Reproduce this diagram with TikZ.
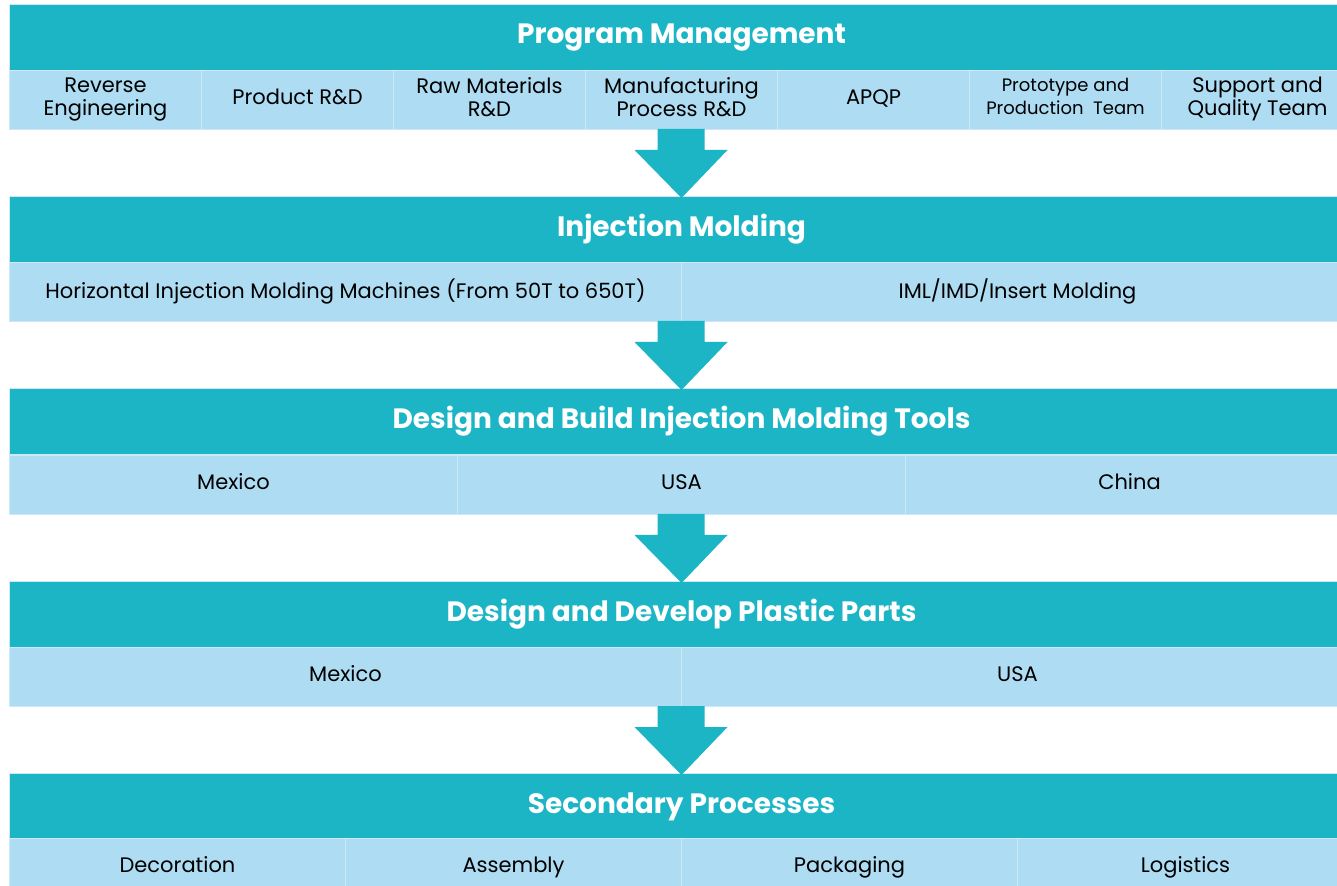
\documentclass[tikz,border=0pt]{standalone}
\usepackage{fontspec}
\setmainfont{Poppins}
\usetikzlibrary{calc}
\definecolor{tealhead}{RGB}{28,181,198}
\definecolor{cellblue}{RGB}{174,220,242}
\definecolor{cellline}{RGB}{205,232,246}
\newcommand{\smallcell}{\fontsize{9}{10}\selectfont}
\begin{document}
\begin{tikzpicture}[x=0.5pt, y=-0.5pt,
            head/.style = {shape=rectangle, anchor=north west, fill=tealhead,
                           draw=cellline, line width=0.5pt, inner sep=0pt,
                           minimum width=672pt, minimum height=33pt,
                           text=white, font=\bfseries\fontsize{14}{16}\selectfont},
            cell/.style = {shape=rectangle, anchor=north west, fill=cellblue,
                           draw=cellline, line width=0.5pt, inner sep=0pt,
                           minimum height=29.5pt, align=center,
                           execute at begin node=\strut,
                           font=\fontsize{10.5}{11.5}\selectfont},
            flow/.style = {fill=tealhead}]
    \useasboundingbox (0,0) rectangle (1337,886);
    \clip (0,0) rectangle (1337,886);
    \fill[white] (0,0) rectangle (1337,886);
    % program management
    \node[head] (pm) at (9,4) {Program Management};
    \foreach \t [count=\i from 0] in {{Reverse\\Engineering}, {Product R\&D},
            {Raw Materials\\R\&D}, {Manufacturing\\Process R\&D}, {APQP},
            {\smallcell Prototype and\\\smallcell Production\ \ Team},
            {Support and\\Quality Team}}
        \node[cell, minimum width=96pt] (pm-\i) at (9+\i*192,70) {\t};
    \coordinate (pmb) at (681,129);
    % injection molding
    \node[head] (im) at (9,196) {Injection Molding};
    \foreach \t [count=\i from 0] in {{Horizontal Injection Molding Machines (From 50T to 650T)},
            {IML/IMD/Insert Molding}}
        \node[cell, minimum width=336pt] (im-\i) at (9+\i*672,262) {\t};
    \coordinate (imb) at (681,321);
    % tools
    \node[head] (dt) at (9,388) {Design and Build Injection Molding Tools};
    \foreach \t [count=\i from 0] in {Mexico, USA, China}
        \node[cell, minimum width=224pt] (dt-\i) at (9+\i*448,455) {\t};
    \coordinate (dtb) at (681,514);
    % plastic parts
    \node[head] (dp) at (9,581) {Design and Develop Plastic Parts};
    \foreach \t [count=\i from 0] in {Mexico, USA}
        \node[cell, minimum width=336pt] (dp-\i) at (9+\i*672,647) {\t};
    \coordinate (dpb) at (681,706);
    % secondary processes
    \node[head] (sp) at (9,773) {Secondary Processes};
    \foreach \t [count=\i from 0] in {Decoration, Assembly, Packaging, Logistics}
        \node[cell, minimum width=168pt] (sp-\i) at (9+\i*336,838) {\t};
    % arrows between the bands
    \foreach \a/\b in {pmb/im, imb/dt, dtb/dp, dpb/sp}
        \fill[flow] ($(\a)+(-23.5,0)$) -- ($(\a)+(23.5,0)$) -- ($(\a)+(23.5,21)$)
            -- ($(\a)+(46.5,21)$) -- ($(\b.north)+(0,2)$) -- ($(\a)+(-46.5,21)$)
            -- ($(\a)+(-23.5,21)$) -- cycle;
\end{tikzpicture}
\end{document}
